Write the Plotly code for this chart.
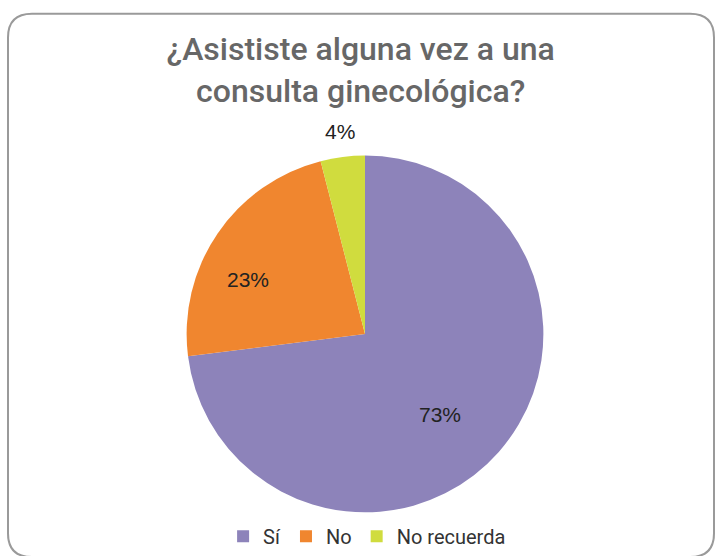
import math
import plotly.graph_objects as go

# Survey answers and their shares (%)
labels = ["Sí", "No", "No recuerda"]
values = [73, 23, 4]
colors = ["#8D83BA", "#F0862F", "#D0DC3E"]

W, H = 717, 556
# Pie placement in pixels (centre and radius)
CX, CY, R = 365, 337, 180

fig = go.Figure(
    go.Pie(
        labels=labels,
        values=values,
        sort=False,
        direction="clockwise",
        rotation=0,
        marker=dict(colors=colors, line=dict(width=0)),
        textinfo="none",
        domain=dict(x=[(CX - R) / W, (CX + R) / W], y=[(H - CY - R) / H, (H - CY + R) / H]),
        automargin=False,
        hoverinfo="label+percent",
    )
)

# Percentage labels placed along each slice's mid-angle
radial = [0.60, 0.70, 1.13]
shifts = [(-6, -10), (-13, -16), (0, 2)]
total = sum(values)
start = 0.0
annotations = []
for v, k, (sx, sy) in zip(values, radial, shifts):
    mid = (start + v / 2) / total * 2 * math.pi
    start += v
    px = CX + k * R * math.sin(mid)
    py = CY - k * R * math.cos(mid)
    annotations.append(dict(
        x=px / W, y=1 - py / H, xref="paper", yref="paper",
        xanchor="center", yanchor="middle",
        text=f"{round(v / total * 100)}%", showarrow=False,
        xshift=sx, yshift=sy,
        font=dict(family="Liberation Sans, Arial, sans-serif", size=21, color="#222222"),
    ))

# Rounded frame around the card
x0, y0, x1, y1, r = 8 / W, 1 - 14 / H, 714 / W, 1 - 562 / H, 24
rx, ry = r / W, r / H
frame = (
    f"M {x0 + rx},{y0} L {x1 - rx},{y0} Q {x1},{y0} {x1},{y0 - ry} "
    f"L {x1},{y1 + ry} Q {x1},{y1} {x1 - rx},{y1} "
    f"L {x0 + rx},{y1} Q {x0},{y1} {x0},{y1 + ry} "
    f"L {x0},{y0 - ry} Q {x0},{y0} {x0 + rx},{y0} Z"
)

fig.update_layout(
    width=W,
    height=H,
    margin=dict(l=0, r=0, t=0, b=0),
    paper_bgcolor="white",
    plot_bgcolor="white",
    title=dict(
        text="¿Asististe alguna vez a una<br>consulta ginecológica?",
        x=0.503,
        xanchor="center",
        y=1 - 60 / H,
        yanchor="middle",
        font=dict(family="Roboto, sans-serif", size=32, color="#676767", weight=500),
    ),
    legend=dict(
        orientation="h",
        x=0.512,
        xanchor="center",
        y=1 - 541 / H,
        yanchor="middle",
        font=dict(family="Roboto, sans-serif", size=20, color="#333333"),
        itemwidth=30,
    ),
    annotations=annotations,
    shapes=[
        dict(type="path", path=frame, xref="paper", yref="paper",
             line=dict(color="#9A9A9A", width=2), fillcolor="rgba(0,0,0,0)")
    ],
)

fig.write_html("out.html")
